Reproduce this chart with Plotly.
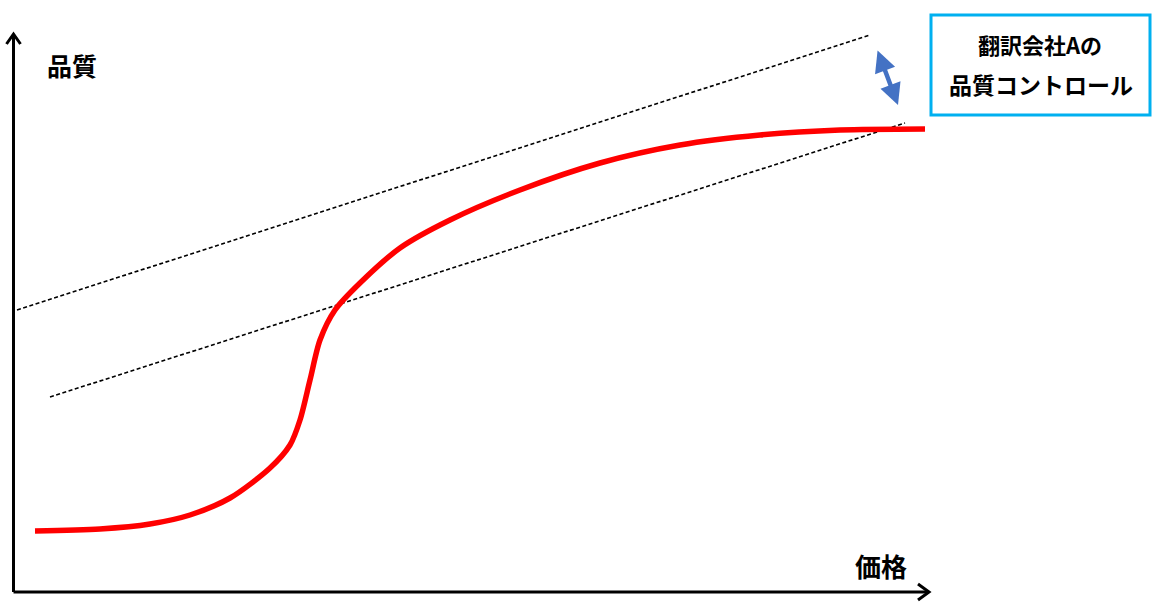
import plotly.graph_objects as go

# Conceptual coordinates (price on x, quality on y)
curve_price = [35, 100, 150, 190, 230, 270, 290, 300, 310, 320, 335, 360, 400, 450, 520, 600, 680, 760, 840, 925]
curve_quality = [75, 77, 82, 91, 108, 138, 161, 186, 226, 266, 296, 323, 358, 386, 416, 443, 461, 471, 476, 477]

upper_band_price = [17, 870]
upper_band_quality = [296, 571]
lower_band_price = [50, 905]
lower_band_quality = [209, 483]

axis_origin = (13.5, 14)
x_axis_end = 929
y_axis_end = 572

ctrl_arrow = [(877, 557), (898, 501)]

label_quality = "品質"
label_price = "価格"
box_lines = ["翻訳会社Aの", "品質コントロール"]

FONT = "Noto Sans CJK JP"

band_line = dict(color="black", width=1.6, dash="4px,2.5px")

fig = go.Figure()
fig.add_trace(go.Scatter(x=upper_band_price, y=upper_band_quality, mode="lines",
                         line=band_line, hoverinfo="skip"))
fig.add_trace(go.Scatter(x=lower_band_price, y=lower_band_quality, mode="lines",
                         line=band_line, hoverinfo="skip"))
fig.add_trace(go.Scatter(x=curve_price, y=curve_quality, mode="lines",
                         line=dict(color="#FF0000", width=5.5, shape="spline", smoothing=0.8), hoverinfo="skip"))

# axes with open chevron arrowheads
ox, oy = axis_origin
axis_line = dict(color="black", width=3)
fig.add_shape(type="line", x0=ox, y0=oy, x1=ox, y1=y_axis_end - 1, xref="x", yref="y", line=axis_line)
fig.add_shape(type="line", x0=ox, y0=oy, x1=x_axis_end - 1, y1=oy, xref="x", yref="y", line=axis_line)
fig.add_shape(type="path", xref="x", yref="y", line=axis_line,
              path=f"M {ox-7},{y_axis_end-10} L {ox},{y_axis_end} L {ox+7},{y_axis_end-10}")
fig.add_shape(type="path", xref="x", yref="y", line=axis_line,
              path=f"M {x_axis_end-11},{oy+8} L {x_axis_end},{oy} L {x_axis_end-11},{oy-8}")

# blue double arrow
fig.add_annotation(x=ctrl_arrow[1][0], y=ctrl_arrow[1][1], ax=ctrl_arrow[0][0], ay=ctrl_arrow[0][1],
                   xref="x", yref="y", axref="x", ayref="y", showarrow=True, text="",
                   arrowhead=2, arrowside="end+start", arrowsize=0.95, arrowwidth=4.5, arrowcolor="#4472C4")

fig.add_annotation(x=72, y=541, xref="x", yref="y", text=f"<b>{label_quality}</b>", showarrow=False,
                   font=dict(family=FONT, size=25, color="black"))
fig.add_annotation(x=881, y=41, xref="x", yref="y", text=f"<b>{label_price}</b>", showarrow=False,
                   font=dict(family=FONT, size=26, color="black"))

# text box
fig.add_shape(type="rect", x0=931, x1=1150, y0=491, y1=591, xref="x", yref="y",
              line=dict(color="#00B0F0", width=3), fillcolor="white")
fig.add_annotation(x=1040, y=562, xref="x", yref="y", text=f"<b>{box_lines[0]}</b>", showarrow=False,
                   font=dict(family=FONT, size=22, color="black"))
fig.add_annotation(x=1041, y=522, xref="x", yref="y", text=f"<b>{box_lines[1]}</b>", showarrow=False,
                   font=dict(family=FONT, size=23, color="black"))

fig.update_layout(width=1166, height=606, margin=dict(l=0, r=0, t=0, b=0),
                  paper_bgcolor="white", plot_bgcolor="white", showlegend=False,
                  xaxis=dict(range=[0, 1166], visible=False, fixedrange=True),
                  yaxis=dict(range=[0, 606], visible=False, fixedrange=True))
fig.write_html("out.html", config={"displayModeBar": False},
               post_script="document.body.style.margin='0';document.body.style.overflow='hidden';")
